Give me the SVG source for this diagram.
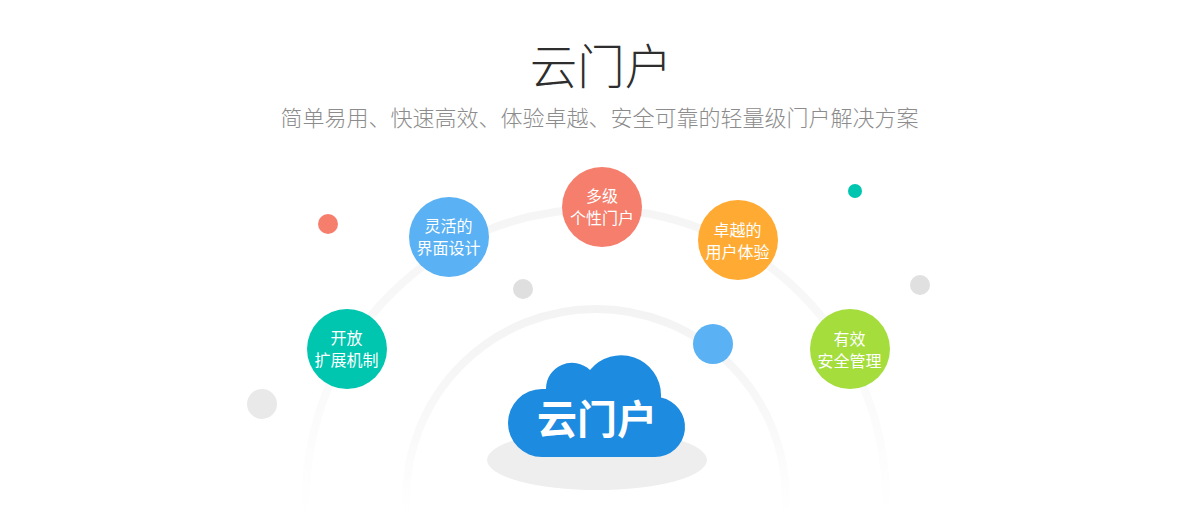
<svg xmlns="http://www.w3.org/2000/svg" width="1200" height="520" viewBox="0 0 1200 520">
<style>
text{font-family:"Noto Sans CJK SC","Noto Sans",sans-serif;text-anchor:middle}
.title{font-size:47.500px;font-weight:300;fill:#2e2e2e}
.sub{font-size:22px;font-weight:300;fill:#8c8c8c}
.label{font-size:16px;fill:#fff}
.cloud{font-size:40px;font-weight:700;fill:#fff}
.arc{fill:none;stroke-width:8}
</style>
<defs>
<linearGradient id="fadeOuter" gradientUnits="userSpaceOnUse" x1="0" y1="205" x2="0" y2="515">
<stop offset="0" stop-color="#f5f5f5"/><stop offset="0.5" stop-color="#f9f9f9"/><stop offset="1" stop-color="#fff"/>
</linearGradient>
<linearGradient id="fadeInner" gradientUnits="userSpaceOnUse" x1="0" y1="305" x2="0" y2="515">
<stop offset="0" stop-color="#f3f3f3"/><stop offset="0.5" stop-color="#f8f8f8"/><stop offset="1" stop-color="#fff"/>
</linearGradient>
</defs>
<rect width="1200" height="520" fill="#fff"/>
<text class="title" x="601" y="84">云门户</text>
<text class="sub" x="599.500" y="126">简单易用、快速高效、体验卓越、安全可靠的轻量级门户解决方案</text>
<g id="connectors">
<path class="arc" stroke="url(#fadeOuter)" d="M306 520V499A290 290 0 0 1 886 499V520"/>
<path class="arc" stroke="url(#fadeInner)" d="M406 520V499A190 190 0 0 1 786 499V520"/>
</g>
<g id="decor">
<circle cx="328" cy="224" r="10" fill="#f57e6d"/>
<circle cx="523" cy="289" r="10" fill="#dfdfdf"/>
<circle cx="713" cy="344" r="20" fill="#5ab1f3"/>
<circle cx="855" cy="191" r="7" fill="#00c5af"/>
<circle cx="920" cy="285" r="10" fill="#e0e0e0"/>
<circle cx="262" cy="404" r="15" fill="#e9e9e9"/>
</g>
<g id="node-cloud">
<ellipse cx="597" cy="460" rx="110" ry="30" fill="#eee"/>
<path fill="#1d8bdf" d="M542 457A34 34 0 0 1 542 389L546 389A26 26 0 0 1 590 370A40 40 0 0 1 661 395L661 397.600A30 30 0 0 1 655 457Z"/>
<text class="cloud" x="597" y="434">云门户</text>
</g>
<g id="node-open">
<circle cx="347" cy="349" r="40" fill="#00c5af"/>
<text class="label" x="346.500" y="344">开放</text><text class="label" x="346.500" y="366">扩展机制</text>
</g>
<g id="node-flex">
<circle cx="449" cy="237" r="40" fill="#5ab1f3"/>
<text class="label" x="448.500" y="232">灵活的</text><text class="label" x="448.500" y="254">界面设计</text>
</g>
<g id="node-multi">
<circle cx="602" cy="207" r="40" fill="#f57e6d"/>
<text class="label" x="602" y="202">多级</text><text class="label" x="602" y="224">个性门户</text>
</g>
<g id="node-ux">
<circle cx="738" cy="240" r="40" fill="#ffab33"/>
<text class="label" x="737.500" y="236">卓越的</text><text class="label" x="737.500" y="258">用户体验</text>
</g>
<g id="node-secure">
<circle cx="850" cy="349" r="40" fill="#a4dd3c"/>
<text class="label" x="849.500" y="345">有效</text><text class="label" x="849.500" y="367">安全管理</text>
</g>
</svg>
